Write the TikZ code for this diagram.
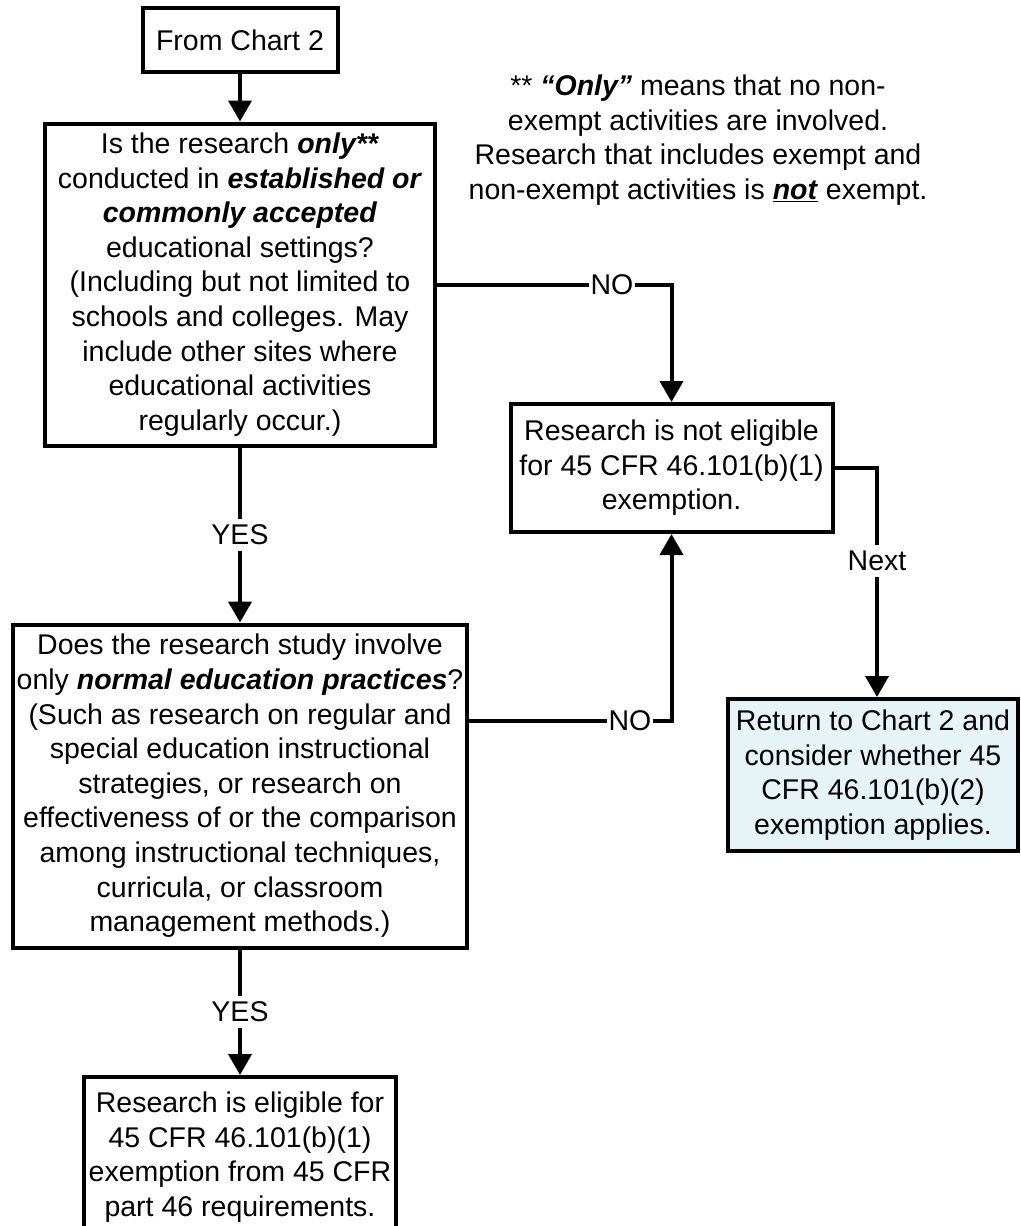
\documentclass[tikz,border=0pt]{standalone}
\usepackage{fontspec}
\setmainfont{Liberation Sans}
\usetikzlibrary{arrows.meta}
\definecolor{paleblue}{HTML}{E6F3F7}
\newcommand{\bi}[1]{\textbf{\textit{#1}}}
\tikzset{
  box/.style={draw=black, line width=4pt, fill=white, align=center, inner sep=0pt,
    font=\fontsize{28.5}{34.6}\selectfont},
  conn/.style={line width=4pt, -{Triangle[width=23pt,length=21pt]}},
  plain/.style={line width=4pt},
  lbl/.style={inner xsep=1pt, inner ysep=6pt, font=\fontsize{28.5}{34.6}\selectfont}
}
\begin{document}
\begin{tikzpicture}[x=1pt,y=-1pt]
\clip (0,0) rectangle (1020,1226);
\fill[white] (0,0) rectangle (1020,1226);
% nodes
\node[box, minimum width=195pt, minimum height=64pt] (start) at (240,40) {From Chart 2};
\node[box, minimum width=390pt, minimum height=322pt] (q1) at (240,284.5) {Is the research \bi{only**}\\conducted in \bi{established or}\\\bi{commonly accepted}\\educational settings?\\(Including but not limited to\\schools and colleges. May\\include other sites where\\educational activities\\regularly occur.)};
\node[box, minimum width=322pt, minimum height=128pt] (ne) at (671.5,468) {Research is not eligible\\for 45 CFR 46.101(b)(1)\\exemption.};
\node[box, fill=paleblue, minimum width=290pt, minimum height=152pt] (ret) at (873,775) {Return to Chart 2 and\\consider whether 45\\CFR 46.101(b)(2)\\exemption applies.};
\node[box, minimum width=454pt, minimum height=323pt] (q2) at (240,786) {Does the research study involve\\only \bi{normal education practices}?\\(Such as research on regular and\\special education instructional\\strategies, or research on\\effectiveness of or the comparison\\among instructional techniques,\\curricula, or classroom\\management methods.)};
\node[box, minimum width=312pt, minimum height=160pt] (el) at (240,1157) {Research is eligible for\\45 CFR 46.101(b)(1)\\exemption from 45 CFR\\part 46 requirements.};
\node[align=center, inner sep=0pt, font=\fontsize{28.5}{34.6}\selectfont] (note) at (698,140) {** \bi{“Only”} means that no non-\\exempt activities are involved.\\Research that includes exempt and\\non-exempt activities is \underline{\bi{not}} exempt.};
% labels
\node[lbl] (yes1) at (240,535) {YES};
\node[lbl] (yes2) at (240,1012) {YES};
\node[lbl] (no1) at (612,284.5) {NO};
\node[lbl] (no2) at (630,720.5) {NO};
\node[lbl] (nx) at (877,561) {Next};
% connectors
\draw[conn] (start) -- (q1);
\draw[plain] (q1.south) -- (yes1.north);
\draw[conn] (yes1.south) -- (q2.north);
\draw[plain] (q2.south) -- (yes2.north);
\draw[conn] (yes2.south) -- (el.north);
\draw[plain] (q1.east) -- (no1.west);
\draw[conn] (no1.east) -| (ne.north);
\draw[plain] ([yshift=65.5pt]q2.east) -- (no2.west);
\draw[conn] (no2.east) -| (ne.south);
\draw[plain] (ne.east) -| (nx.north);
\draw[conn] (nx.south) -- (nx.south |- ret.north);
\end{tikzpicture}
\end{document}
